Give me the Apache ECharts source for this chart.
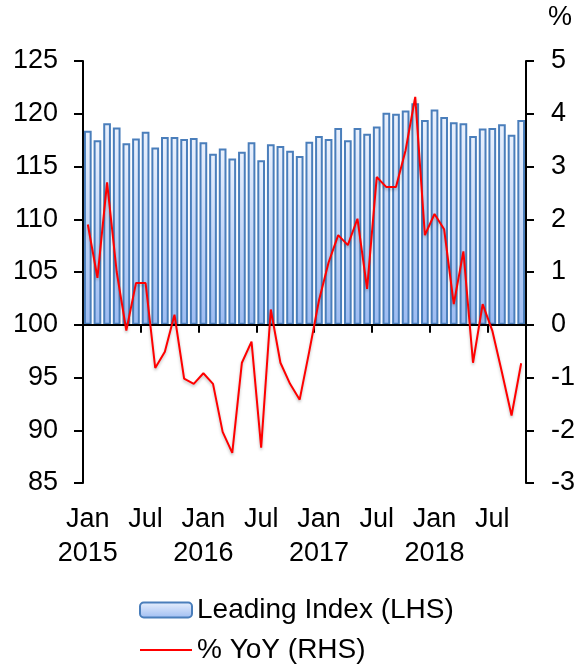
<!DOCTYPE html>
<html>
<head>
<meta charset="utf-8">
<script src="https://cdn.jsdelivr.net/npm/echarts@6/dist/echarts.min.js"></script>
<style>
  html, body { margin: 0; padding: 0; background: #fff; }
  #main { width: 578px; height: 664px; }
</style>
</head>
<body>
<div id="main"></div>
<script>
// months Jan 2015 .. Oct 2018
var years = [2015, 2016, 2017, 2018];
var monthNames = ['Jan', 'Feb', 'Mar', 'Apr', 'May', 'Jun', 'Jul', 'Aug', 'Sep', 'Oct', 'Nov', 'Dec'];
var categories = [];
years.forEach(function (y) {
  monthNames.forEach(function (m) {
    if (categories.length < 46) categories.push(m + ' ' + y);
  });
});

var xTickLabels = ['Jan\n2015', 'Jul', 'Jan\n2016', 'Jul', 'Jan\n2017', 'Jul', 'Jan\n2018', 'Jul'];

// Leading Index (LHS)
var leadingIndex = [
  118.4, 117.5, 119.1, 118.7, 117.2, 117.65, 118.3, 116.8, 117.8, 117.8,
  117.6, 117.7, 117.3, 116.2, 116.7, 115.75, 116.4, 117.3, 115.6, 117.1,
  116.95, 116.5, 116.0, 117.35, 117.9, 117.6, 118.65, 117.5, 118.65, 118.1,
  118.8, 120.1, 120.0, 120.3, 121.0, 119.4, 120.4, 119.7, 119.2, 119.1,
  117.9, 118.6, 118.65, 119.0, 118.0, 119.4
];

// % YoY (RHS)
var yoy = [
  1.9, 0.89, 2.7, 1.0, -0.11, 0.79, 0.79, -0.82, -0.51, 0.19,
  -1.02, -1.12, -0.92, -1.12, -2.03, -2.43, -0.72, -0.32, -2.33, 0.29,
  -0.72, -1.12, -1.42, -0.5, 0.46, 1.18, 1.7, 1.51, 2.01, 0.68,
  2.8, 2.61, 2.61, 3.31, 4.32, 1.7, 2.1, 1.81, 0.39, 1.39,
  -0.72, 0.39, -0.11, -0.9, -1.72, -0.73
];

var barBase = 100; // bars grow from 100 on the left axis

var font = 'Liberation Sans, Arial, sans-serif';
var black = '#000';
var fs = 27;

var chart = echarts.init(document.getElementById('main'));

var option = {
  animation: false,
  textStyle: { fontFamily: font },
  grid: { left: 83, right: 52, top: 61, bottom: 181, containLabel: false },
  legend: {
    orient: 'vertical',
    left: 134,
    top: 590,
    height: 90,
    itemWidth: 52,
    itemHeight: 15,
    itemGap: 10,
    data: [
      { name: 'Leading Index (LHS)' },
      { name: '% YoY (RHS)', itemStyle: { opacity: 0 } }
    ],
    textStyle: { fontSize: 28, lineHeight: 30, color: black, fontFamily: font }
  },
  xAxis: [
    {
      type: 'category',
      data: categories,
      axisLine: { show: false, onZero: false },
      axisTick: { show: false },
      axisLabel: {
        interval: 5,
        fontSize: fs,
        color: black,
        fontFamily: font,
        lineHeight: 34,
        margin: 20,
        formatter: function (v, i) { return xTickLabels[i / 6]; }
      }
    },
    {
      type: 'category',
      data: categories,
      position: 'bottom',
      z: 5,
      axisLine: { show: true, onZero: true, onZeroAxisIndex: 1, lineStyle: { color: black, width: 2 } },
      axisTick: { show: true, interval: 5, length: 8, lineStyle: { color: black, width: 2 } },
      axisLabel: { show: false }
    }
  ],
  yAxis: [
    {
      type: 'value',
      min: 85,
      max: 125,
      interval: 5,
      splitLine: { show: false },
      axisLine: { show: true, lineStyle: { color: black, width: 2 } },
      axisTick: { show: true, length: 9, lineStyle: { color: black, width: 2 } },
      axisLabel: { fontSize: fs, color: black, fontFamily: font, margin: 25 }
    },
    {
      type: 'value',
      min: -3,
      max: 5,
      interval: 1,
      position: 'right',
      name: '%',
      nameLocation: 'end',
      nameGap: 30,
      nameTextStyle: { fontSize: fs, color: black, fontFamily: font, align: 'left', padding: [0, 0, 0, 22] },
      splitLine: { show: false },
      axisLine: { show: true, lineStyle: { color: black, width: 2 } },
      axisTick: { show: true, length: 8, lineStyle: { color: black, width: 2 } },
      axisLabel: { fontSize: fs, color: black, fontFamily: font, margin: 25 }
    }
  ],
  series: [
    {
      name: 'base',
      type: 'bar',
      stack: 'idx',
      xAxisIndex: 0,
      yAxisIndex: 0,
      barWidth: '80%',
      silent: true,
      itemStyle: { color: 'transparent', borderWidth: 0 },
      data: leadingIndex.map(function () { return barBase; })
    },
    {
      name: 'Leading Index (LHS)',
      type: 'bar',
      stack: 'idx',
      xAxisIndex: 0,
      yAxisIndex: 0,
      barWidth: '80%',
      itemStyle: {
        color: new echarts.graphic.LinearGradient(0, 0, 0, 1, [
          { offset: 0, color: '#eaf1fd' },
          { offset: 1, color: '#9dbcf2' }
        ]),
        borderColor: '#4a7ebb',
        borderWidth: 2
      },
      data: leadingIndex.map(function (v) { return +(v - barBase).toFixed(2); })
    },
    {
      name: '% YoY (RHS)',
      type: 'line',
      xAxisIndex: 0,
      yAxisIndex: 1,
      symbol: 'none',
      z: 6,
      lineStyle: {
        color: '#ff0000',
        width: 2,
        shadowColor: 'rgba(0,0,0,0.25)',
        shadowBlur: 3,
        shadowOffsetY: 2
      },
      itemStyle: { color: '#ff0000' },
      data: yoy
    }
  ]
};

chart.setOption(option);
</script>
</body>
</html>
